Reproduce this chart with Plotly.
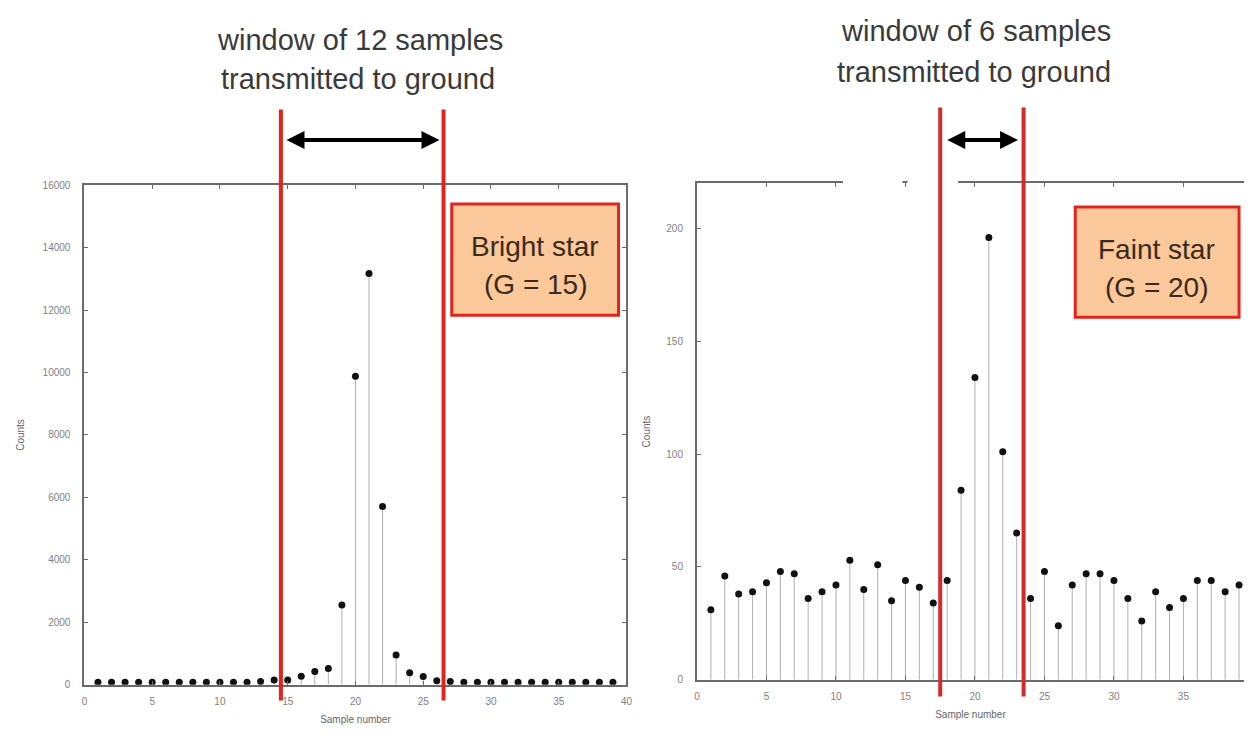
import plotly.graph_objects as go

# ---------------- data ----------------
samples = list(range(1, 40))
bright_counts = [80, 80, 80, 80, 80, 80, 80, 80, 80, 80, 80, 80, 100, 150,
                 150, 270, 420, 520, 2550, 9880, 13170, 5710, 950, 380, 260,
                 130, 100, 80, 80, 80, 80, 80, 80, 80, 80, 80, 80, 80, 80]
faint_counts = [31, 46, 38, 39, 43, 48, 47, 36, 39, 42, 53, 40, 51, 35, 44,
                41, 34, 44, 84, 134, 196, 101, 65, 36, 48, 24, 42, 47, 47, 44,
                36, 26, 39, 32, 36, 44, 44, 39, 42]
bright_window = [14.5, 26.5]
faint_window = [17.5, 23.5]
left_ticks_y = [0, 2000, 4000, 6000, 8000, 10000, 12000, 14000, 16000]
right_ticks_y = [0, 50, 100, 150, 200]
x_ticks = [0, 5, 10, 15, 20, 25, 30, 35, 40]
left_title = ["window of 12 samples", "transmitted to ground"]
right_title = ["window of 6 samples", "transmitted to ground"]
left_box = ["Bright star", "(G = 15)"]
right_box = ["Faint star", "(G = 20)"]

W, H = 1250, 738
def px(x):
    return x / W
def py(y):
    return (H - y) / H

RED = "#e3241c"
DARK = "#3a3a3a"
AX = "#6a6a6a"
BOXFILL = "#fbc89a"

fig = go.Figure()

def stems(xs, ys):
    sx, sy = [], []
    for x, y in zip(xs, ys):
        sx += [x, x, None]
        sy += [0, y, None]
    return sx, sy

for xs, ys, xa, ya in [(samples, bright_counts, "x", "y"),
                       (samples, faint_counts, "x2", "y2")]:
    sx, sy = stems(xs, ys)
    fig.add_trace(go.Scatter(x=sx, y=sy, mode="lines", xaxis=xa, yaxis=ya,
                             line=dict(color="#b0b0b0", width=1),
                             hoverinfo="skip", showlegend=False))
    fig.add_trace(go.Scatter(x=xs, y=ys, mode="markers", xaxis=xa, yaxis=ya,
                             marker=dict(color="#111111", size=7, symbol="circle"),
                             showlegend=False))

tickfont = dict(family="Liberation Sans, Arial", size=10, color="#808080")
common_x = dict(showline=True, linecolor=AX, linewidth=2, ticks="inside",
                ticklen=4, tickcolor=AX, tickfont=tickfont, showgrid=False,
                zeroline=False, tickvals=x_ticks, ticklabelstandoff=6,
                title=dict(text="Sample number",
                           font=dict(family="Liberation Sans, Arial", size=10, color="#666666"),
                           standoff=10))
common_y = dict(showline=True, linecolor=AX, linewidth=2, ticks="inside",
                ticklen=4, tickcolor=AX, tickfont=tickfont, showgrid=False,
                zeroline=False, tickformat="d", ticklabelstandoff=10,
                title=dict(text="Counts",
                           font=dict(family="Liberation Sans, Arial", size=10, color="#666666")))

right_xmax = (W - 699) / 14.0

fig.update_layout(
    width=W, height=H, margin=dict(l=0, r=0, t=0, b=0),
    paper_bgcolor="white", plot_bgcolor="white", showlegend=False,
    xaxis=dict(common_x, domain=[px(82), px(628)], range=[0, 40], mirror="ticks",
               anchor="y"),
    yaxis=dict(common_y, domain=[py(690), py(183)], range=[0, 16000],
               tickvals=left_ticks_y, mirror="ticks", anchor="x",
               title_standoff=16),
    xaxis2=dict(common_x, domain=[px(699), 1.0], range=[0, right_xmax],
                mirror="ticks", anchor="y2"),
    yaxis2=dict(common_y, domain=[py(685), py(181)], range=[0, 220],
                tickvals=right_ticks_y, anchor="x2", title_standoff=14),
)

shapes = []
# gaps in the top frame of right panel
shapes.append(dict(type="rect", xref="paper", yref="paper",
                   x0=px(846), x1=px(906), y0=py(190), y1=py(172),
                   fillcolor="white", line=dict(width=0), layer="above"))
shapes.append(dict(type="rect", xref="paper", yref="paper",
                   x0=px(911), x1=px(962), y0=py(190), y1=py(172),
                   fillcolor="white", line=dict(width=0), layer="above"))
# window red lines
for xv in bright_window:
    shapes.append(dict(type="line", xref="x", yref="paper", x0=xv, x1=xv,
                       y0=py(706), y1=py(106), line=dict(color=RED, width=4),
                       layer="above"))
for xv in faint_window:
    shapes.append(dict(type="line", xref="x2", yref="paper", x0=xv, x1=xv,
                       y0=py(702), y1=py(104), line=dict(color="#d42a2a", width=4),
                       layer="above"))
# boxes
shapes.append(dict(type="rect", xref="paper", yref="paper",
                   x0=px(452), x1=px(620), y0=py(315), y1=py(202),
                   fillcolor=BOXFILL, line=dict(color=RED, width=3), layer="above"))
shapes.append(dict(type="rect", xref="paper", yref="paper",
                   x0=px(1080), x1=px(1245), y0=py(317), y1=py(205),
                   fillcolor=BOXFILL, line=dict(color=RED, width=3), layer="above"))
fig.update_layout(shapes=shapes)

ann = []
big = dict(family="Liberation Sans, Arial", size=29, color=DARK)
def txt(x, y, t, f):
    return dict(xref="paper", yref="paper", x=px(x), y=py(y), text=t,
                showarrow=False, font=f, xanchor="center", yanchor="middle")
ann.append(txt(360, 36, left_title[0], big))
ann.append(txt(358, 75, left_title[1], big))
ann.append(txt(980, 26, right_title[0], big))
ann.append(txt(978, 68, right_title[1], big))
boxf = dict(family="Liberation Sans, Arial", size=28, color="#3a2a20")
ann.append(txt(536, 245, left_box[0], boxf))
ann.append(txt(536, 284, left_box[1], boxf))
ann.append(txt(1162, 248, right_box[0], boxf))
ann.append(txt(1162, 287, right_box[1], boxf))
# double-headed arrows
ann.append(dict(xref="x", yref="paper", x=bright_window[1] - 0.3, y=py(137),
                axref="x", ayref="pixel", ax=bright_window[0] + 0.3, ay=0,
                showarrow=True, arrowhead=2, startarrowhead=2, arrowside="end+start",
                arrowsize=0.9, arrowwidth=4, arrowcolor="black", text=""))
ann.append(dict(xref="x2", yref="paper", x=faint_window[1] - 0.4, y=py(137),
                axref="x2", ayref="pixel", ax=faint_window[0] + 0.4, ay=0,
                showarrow=True, arrowhead=2, startarrowhead=2, arrowside="end+start",
                arrowsize=0.9, arrowwidth=4, arrowcolor="black", text=""))
fig.update_layout(annotations=ann)

fig.write_html("out.html")
